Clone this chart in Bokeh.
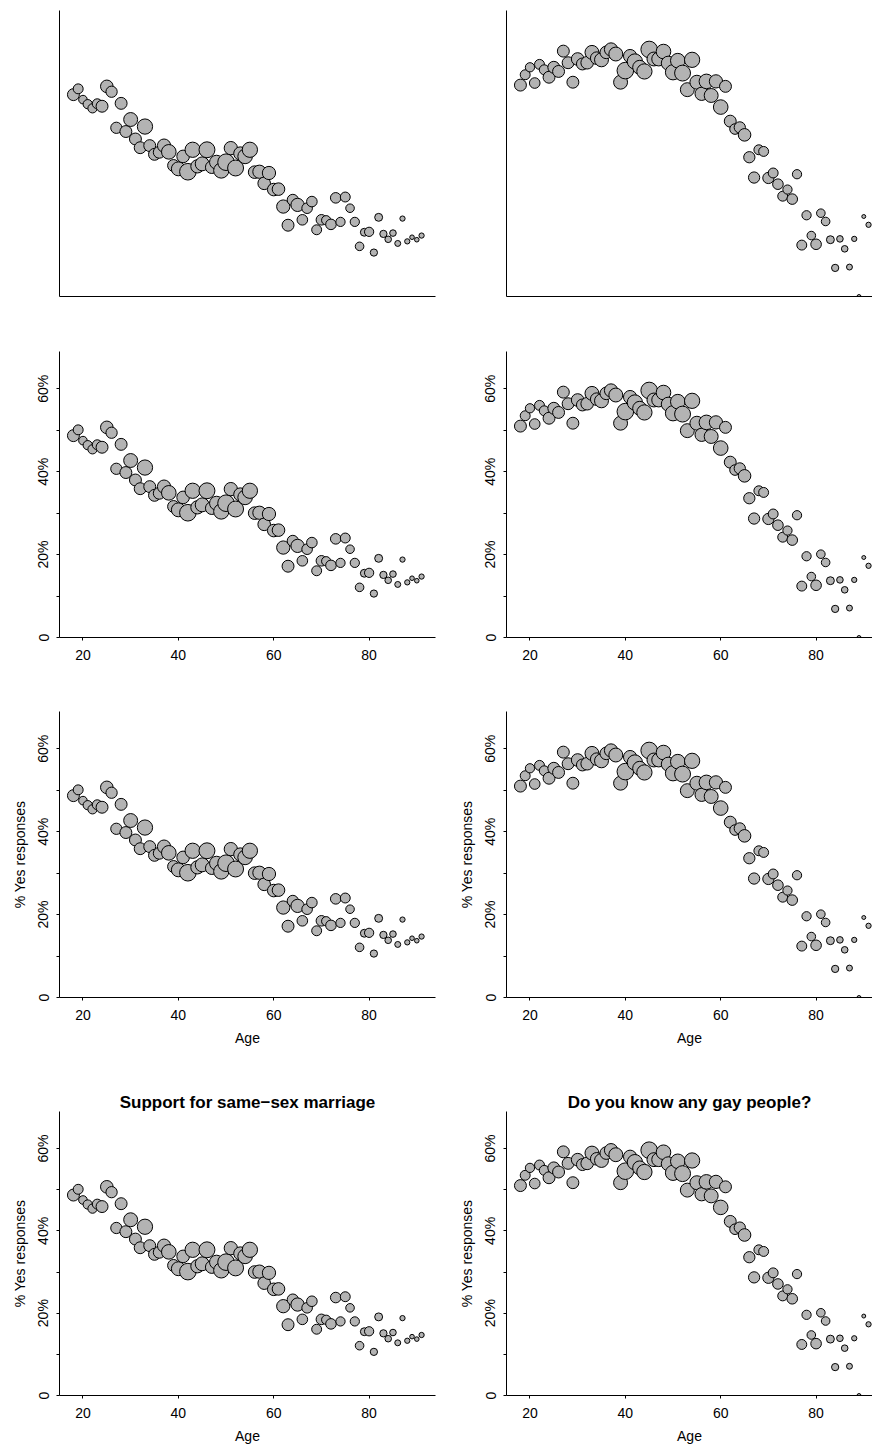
from bokeh.plotting import figure
from bokeh.layouts import column, row
from bokeh.models import Range1d, FixedTicker, ColumnDataSource
from bokeh.embed import file_html
from bokeh.resources import INLINE
import math

# ---------------- data ----------------
ages = [18, 19, 20, 21, 22, 23, 24, 25, 26, 27, 28, 29, 30, 31, 32, 33, 34, 35, 36, 37,
        38, 39, 40, 41, 42, 43, 44, 45, 46, 47, 48, 49, 50, 51, 52, 53, 54, 55, 56, 57,
        58, 59, 60, 61, 62, 63, 64, 65, 66, 67, 68, 69, 70, 71, 72, 73, 74, 75, 76, 77,
        78, 79, 80, 81, 82, 83, 84, 85, 86, 87, 88, 89, 90, 91]

# % yes: support for same-sex marriage
marriage_pct = [48.7, 50.1, 47.5, 46.4, 45.4, 46.5, 45.9, 50.7, 49.4, 40.7, 46.6, 39.8, 42.7, 38.0,
                35.9, 41.0, 36.4, 34.3, 34.8, 36.4, 34.9, 31.6, 30.8, 33.8, 30.1, 35.4, 31.4, 32.0,
                35.4, 31.2, 32.4, 30.4, 32.4, 35.8, 31.0, 34.5, 33.8, 35.4, 30.0, 30.1, 27.3, 29.8,
                25.8, 25.9, 21.7, 17.2, 23.3, 22.1, 18.5, 21.3, 22.9, 16.1, 18.5, 18.4, 17.4, 23.8,
                18.0, 24.0, 21.3, 18.0, 12.1, 15.5, 15.6, 10.6, 19.1, 15.1, 13.8, 15.3, 12.8, 18.8,
                13.3, 14.3, 13.7, 14.7]
# approximate respondents per age (bubble area)
marriage_n = [289, 196, 144, 169, 169, 196, 289, 324, 256, 256, 289, 289, 400, 289, 289, 484, 289,
              289, 289, 361, 441, 289, 400, 324, 576, 484, 361, 400, 529, 324, 400, 484, 576, 361,
              529, 361, 441, 484, 324, 361, 324, 361, 324, 324, 361, 289, 256, 361, 225, 225, 225,
              196, 225, 169, 225, 225, 169, 196, 144, 169, 144, 121, 169, 100, 121, 100, 81, 81,
              64, 49, 49, 36, 36, 49]

# % yes: do you know any gay people?
know_pct = [51.0, 53.5, 55.3, 51.5, 56.0, 54.7, 52.9, 55.3, 54.3, 59.2, 56.4, 51.7, 57.3, 56.1,
            56.4, 58.9, 57.5, 57.1, 58.9, 59.6, 58.5, 51.7, 54.5, 58.0, 56.7, 55.3, 54.3, 59.6,
            57.3, 57.3, 59.1, 56.3, 54.1, 56.9, 53.9, 49.9, 57.1, 51.7, 48.9, 51.9, 48.5, 51.9,
            45.7, 50.7, 42.3, 40.4, 40.8, 39.0, 33.6, 28.7, 35.4, 35.0, 28.6, 29.8, 27.1, 24.2,
            25.8, 23.5, 29.5, 12.4, 19.6, 14.7, 12.6, 20.1, 18.1, 13.7, 6.9, 13.9, 11.5, 7.1,
            13.9, 0.0, 19.3, 17.3]
know_n = [289, 196, 169, 225, 196, 196, 289, 289, 289, 289, 289, 289, 324, 289, 324, 400, 324,
          400, 324, 361, 400, 400, 576, 361, 484, 400, 484, 576, 400, 400, 441, 400, 484, 441,
          529, 400, 484, 400, 361, 441, 400, 361, 441, 289, 289, 225, 256, 324, 256, 256, 196,
          196, 256, 196, 225, 196, 169, 225, 169, 196, 169, 144, 225, 144, 144, 121, 100, 81,
          81, 64, 49, 25, 25, 49]

titles = ["Support for same\u2212sex marriage", "Do you know any gay people?"]
x_ticks = [20, 40, 60, 80]
y_ticks = [0.0, 0.1, 0.2, 0.3, 0.4, 0.5, 0.6]
y_tick_labels = ["0", "", "20%", "", "40%", "", "60%"]
x_label = "Age"
y_label = "% Yes responses"

FONT = "Liberation Sans"

# rows: (height, top border, bottom border)
row_specs = [(330, 10, 34), (340, 21, 33), (386, 41, 59), (390, 55, 49)]


def make_panel(col, r):
    height, top, bottom = row_specs[r]
    if col == 0:
        width, left, right = 436, 59, 1
        x_end = 93.92
        pct, n = marriage_pct, marriage_n
    else:
        width, left, right = 436, 70, 0
        x_end = 91.83
        pct, n = know_pct, know_n
    src = ColumnDataSource(dict(age=ages, y=[v / 100.0 for v in pct],
                                size=[2.0 * math.sqrt(v) / 3.0 + 0.6 for v in n]))
    p = figure(width=width, height=height, output_backend="svg", toolbar_location=None,
               x_range=Range1d(15.08, x_end), y_range=Range1d(0, 0.69))
    p.min_border = 0
    p.min_border_left = left
    p.min_border_right = right
    p.min_border_top = top
    p.min_border_bottom = bottom
    p.outline_line_color = None
    p.grid.visible = False
    p.background_fill_color = "white"
    p.border_fill_color = "white"

    p.scatter(x="age", y="y", size="size", source=src, marker="circle",
              fill_color="#b3b3b3", line_color="black", line_width=1)

    for ax in (p.xaxis[0], p.yaxis[0]):
        ax.axis_line_color = "black"
        ax.axis_line_width = 1
        ax.major_tick_line_color = "black"
        ax.major_tick_in = 0
        ax.major_tick_out = 3
        ax.minor_tick_line_color = None
        ax.major_label_text_font = FONT
        ax.major_label_text_font_size = "14px"
        ax.major_label_text_color = "black"
        ax.axis_label_text_font = FONT
        ax.axis_label_text_font_size = "14px"
        ax.axis_label_text_font_style = "normal"
        ax.axis_label_text_color = "black"

    if r == 0:
        p.xaxis.ticker = FixedTicker(ticks=[])
        p.yaxis.ticker = FixedTicker(ticks=[])
        p.xaxis.major_tick_line_color = None
        p.yaxis.major_tick_line_color = None
    else:
        p.xaxis.ticker = FixedTicker(ticks=x_ticks)
        p.yaxis.ticker = FixedTicker(ticks=y_ticks)
        p.yaxis.major_label_overrides = {t: l for t, l in zip(y_ticks, y_tick_labels)}
        p.yaxis.major_label_orientation = "vertical"
        p.xaxis.major_label_standoff = 9
        p.yaxis.major_label_standoff = 5
    if r >= 2:
        p.xaxis.axis_label = x_label
        p.yaxis.axis_label = y_label
        p.xaxis.axis_label_standoff = 7
        p.yaxis.axis_label_standoff = 5
    if r == 3:
        p.title.text = titles[col]
        p.title.align = "center"
        p.title.text_font = FONT
        p.title.text_font_size = "17px"
        p.title.text_font_style = "bold"
        p.title.text_color = "black"
        p.title.standoff = 0
        if col == 1:
            p.title.offset = 5
    return p


rows = [row(make_panel(0, r), make_panel(1, r)) for r in range(4)]
layout = column(*rows)

open("out.html", "w").write(file_html(layout, INLINE))
